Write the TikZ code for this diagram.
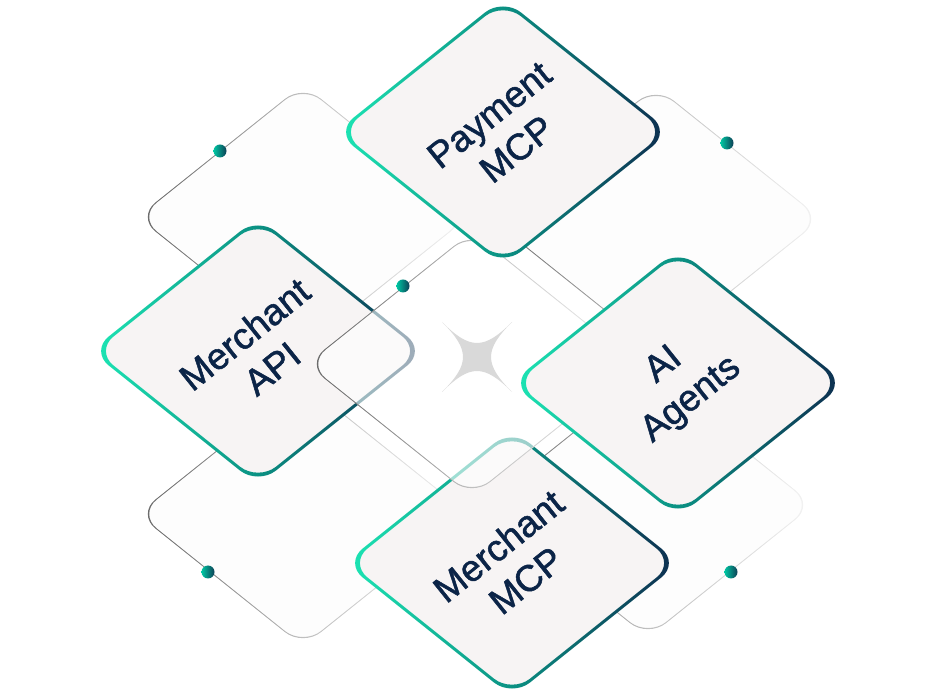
\documentclass[tikz,border=0pt]{standalone}
\usepackage{fontspec}
\setmainfont{Liberation Sans}
\newfontfamily\cardfont{Liberation Sans}[FakeBold=1.4]
\usepackage{xcolor}
\usetikzlibrary{positioning,shapes}

\definecolor{mint}{HTML}{1DE7B5}
\definecolor{tealmid}{HTML}{0B9183}
\definecolor{navy}{HTML}{0D2B4E}
\definecolor{cardfill}{HTML}{F7F4F4}
\definecolor{cardtext}{HTML}{0B2447}
\definecolor{starfill}{HTML}{D9D9D9}
\definecolor{bgfill}{HTML}{FDFDFD}
\definecolor{dotteal}{HTML}{00C7A3}
\definecolor{dotnavy}{HTML}{0D3F55}

\tikzset{
  cardedge/.style={even odd rule, rounded corners=23pt, left color=mint, right color=navy, middle color=tealmid},
  bgedge/.style={even odd rule, rounded corners=23pt, left color=black!60, right color=black!4, middle color=black!25},
  cardlabel/.style={text=cardtext, align=center, rotate=38.7, font=\cardfont\fontsize{37}{44}\selectfont},
  dot/.style={circle, inner sep=0pt, minimum size=13pt, left color=dotteal, right color=dotnavy}
}

% rounded rhombus: centre x, centre y, half width
\newcommand{\rhomb}[3]{(#1-#3,#2) -- (#1,#2+0.8*#3) -- (#1+#3,#2) -- (#1,#2-0.8*#3) -- cycle}

\begin{document}
\begin{tikzpicture}[x=1pt, y=1pt, font=\small]
\useasboundingbox (0,0) rectangle (925,698);

% faint tiles behind
\foreach \cx/\cy in {303/481, 656/479, 303/184, 648/193}{
  \fill[bgfill, rounded corners=23pt] \rhomb{\cx}{\cy}{165};
  \shade[bgedge] \rhomb{\cx}{\cy}{165.7} \rhomb{\cx}{\cy}{164.3};
}
\node[dot] (dotTL) at (220,547) {};
\node[dot] (dotTR) at (727,555) {};
\node[dot] (dotBL) at (208,126) {};
\node[dot] (dotBR) at (731,126) {};

% lower cards
\foreach \cx/\cy in {258/347, 512/135}{
  \fill[cardfill, rounded corners=23pt] \rhomb{\cx}{\cy}{165};
  \shade[cardedge] \rhomb{\cx}{\cy}{167.4} \rhomb{\cx}{\cy}{162.6};
}
\node[cardlabel] (mapi) at (258,347) {Merchant\\API};
\node[cardlabel] (mmcp) at (512,135) {Merchant\\MCP};

% glass tile in the middle
\fill[white, fill opacity=0.6, rounded corners=23pt] \rhomb{472}{334}{165};
\shade[bgedge] \rhomb{472}{334}{165.7} \rhomb{472}{334}{164.3};
\node[dot] (dotC) at (403,412) {};
\fill[starfill, shift={(477,341)}] (35,35) .. controls (7,7) and (-7,7) .. (-35,35)
  .. controls (-7,7) and (-7,-7) .. (-35,-35) .. controls (-7,-7) and (7,-7) .. (35,-35)
  .. controls (7,-7) and (7,7) .. cycle;

% upper cards
\foreach \cx/\cy in {503/566, 678/315}{
  \fill[cardfill, rounded corners=23pt] \rhomb{\cx}{\cy}{165};
  \shade[cardedge] \rhomb{\cx}{\cy}{167.4} \rhomb{\cx}{\cy}{162.6};
}
\node[cardlabel] (pay) at (503,566) {Payment\\MCP};
\node[cardlabel] (agents) at (678,315) {AI\\Agents};
\end{tikzpicture}
\end{document}
